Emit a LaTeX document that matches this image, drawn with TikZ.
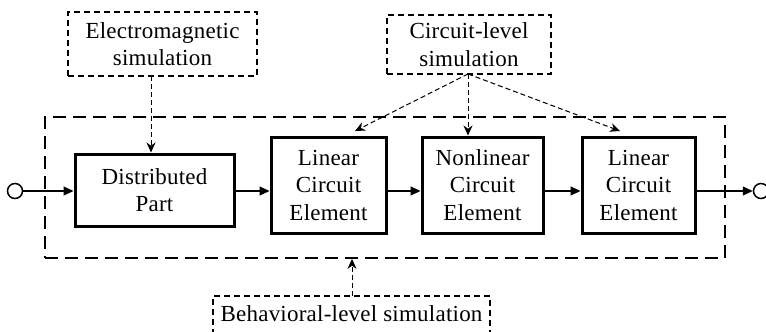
\documentclass[tikz,border=0pt]{standalone}
\usepackage{fontspec}
\setmainfont{Liberation Serif}[LetterSpace=1]
\usetikzlibrary{arrows.meta}
\begin{document}
\begin{tikzpicture}[x=1pt,y=-1pt,
  txt/.style={font=\fontsize{23}{27.5}\selectfont, align=center, inner sep=0pt},
  blockbox/.style={txt, draw, line width=3pt, rectangle},
  simbox/.style={txt, draw, line width=1.3pt, dash pattern=on 6pt off 4pt, rectangle},
  sysbox/.style={draw, line width=1.8pt, dash pattern=on 13pt off 7pt, rectangle, inner sep=0pt},
  sig/.style={line width=1.2pt, -{Triangle[length=10pt,width=9pt]}},
  simarrow/.style={line width=1pt, dash pattern=on 5pt off 3pt, -{Stealth[length=10pt,width=9pt]}},
  port/.style={circle, draw, line width=1.5pt, minimum size=15pt, inner sep=0pt}
]
\useasboundingbox (0,0) rectangle (766,332);

% system (behavioural) boundary
\node[sysbox, minimum width=680pt, minimum height=141pt] (sys) at (385,187.5) {};

% blocks
\node[blockbox, minimum width=159pt, minimum height=72pt] (dist) at (154.5,190) {Distributed\\Part};
\node[blockbox, minimum width=115pt, minimum height=96pt] (lin1) at (328.5,185) {Linear\\Circuit\\Element};
\node[blockbox, minimum width=121pt, minimum height=96pt] (nonlin) at (482.5,185) {Nonlinear\\Circuit\\Element};
\node[blockbox, minimum width=113pt, minimum height=96pt] (lin2) at (638.5,185) {Linear\\Circuit\\Element};

% ports
\node[port] (in) at (15,191) {};
\node[port] (out) at (761,191) {};

% signal path
\draw[sig] (in.east) -- (in.east -| dist.west);
\draw[sig] (dist.east |- in.east) -- (in.east -| lin1.west);
\draw[sig] (lin1.east |- in.east) -- (in.east -| nonlin.west);
\draw[sig] (nonlin.east |- in.east) -- (in.east -| lin2.west);
\draw[sig] (lin2.east |- in.east) -- (out.west);

% simulation boxes
\node[simbox, minimum width=189pt, minimum height=64pt] (em) at (162.5,44) {Electromagnetic\\simulation};
\node[simbox, minimum width=164pt, minimum height=59pt] (circ) at (469,44.5) {Circuit-level\\simulation};
\node[txt] (beh) at (351.5,314) {Behavioral-level simulation};
\draw[line width=1.3pt, dash pattern=on 6pt off 4pt] (213,345) |- (490,296) -- (490,345);

% simulation arrows
\coordinate (emfoot) at (151,76);
\draw[simarrow] (emfoot) -- (emfoot |- dist.north);
\coordinate (circfoot) at (468,74);
\coordinate (lin1tip) at (355,131);
\coordinate (lin2tip) at (620,131);
\draw[simarrow] (circfoot) -- (lin1tip);
\draw[simarrow] (circfoot) -- (circfoot |- nonlin.north);
\draw[simarrow] (circfoot) -- (lin2tip);
\coordinate (behtop) at (352,296);
\draw[simarrow] (behtop) -- (behtop |- sys.south);
\end{tikzpicture}
\end{document}
